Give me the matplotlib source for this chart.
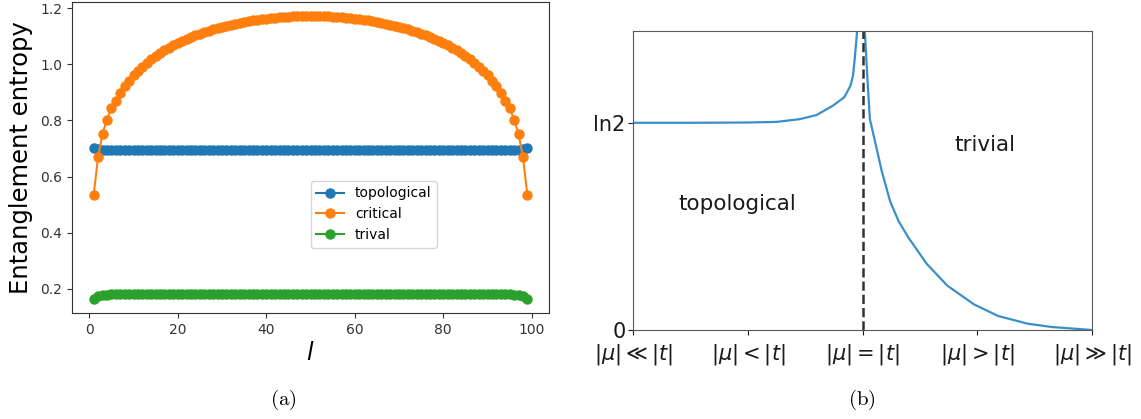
import numpy as np
import matplotlib
matplotlib.use("Agg")
import matplotlib.pyplot as plt

# panel (a): entanglement entropy vs subsystem size l
l_sites = list(range(1, 100))
S_topological = [0.703, 0.697] + [0.694] * 95 + [0.697, 0.703]
S_critical = [
    0.535, 0.670, 0.753, 0.803, 0.845, 0.871, 0.898, 0.922, 0.942, 0.961,
    0.977, 0.992, 1.006, 1.018, 1.030, 1.041, 1.050, 1.060, 1.068, 1.076,
    1.084, 1.091, 1.098, 1.104, 1.110, 1.115, 1.120, 1.125, 1.130, 1.134,
    1.138, 1.142, 1.145, 1.148, 1.151, 1.154, 1.157, 1.159, 1.161, 1.163,
    1.165, 1.166, 1.168, 1.169, 1.170, 1.171, 1.171, 1.172, 1.172, 1.172,
    1.172, 1.172, 1.171, 1.171, 1.170, 1.169, 1.168, 1.166, 1.165, 1.163,
    1.161, 1.159, 1.157, 1.154, 1.151, 1.148, 1.145, 1.142, 1.138, 1.134,
    1.130, 1.125, 1.120, 1.115, 1.110, 1.104, 1.098, 1.091, 1.084, 1.076,
    1.068, 1.060, 1.050, 1.041, 1.030, 1.018, 1.006, 0.992, 0.977, 0.961,
    0.942, 0.922, 0.898, 0.871, 0.845, 0.803, 0.753, 0.670, 0.535,
]
S_trivial = [0.164, 0.173, 0.177, 0.179] + [0.180] * 91 + [0.179, 0.177, 0.173, 0.164]

# panel (b): schematic entropy across the transition
mu_vals = [-2.0, -1.5, -1.0, -0.75, -0.55, -0.4, -0.26, -0.16, -0.105, -0.083,
           -0.068, -0.047, -0.04, 0.015, 0.02, 0.041, 0.064, 0.108, 0.167,
           0.24, 0.313, 0.40, 0.56, 0.74, 0.97, 1.18, 1.44, 1.65, 2.0]
S_schematic = [0.693, 0.693, 0.694, 0.696, 0.705, 0.719, 0.750, 0.778, 0.817, 0.851,
               0.907, 1.0, 1.1, 1.1, 1.0, 0.851, 0.705, 0.632, 0.532,
               0.431, 0.365, 0.309, 0.221, 0.148, 0.086, 0.047, 0.021, 0.010, 0.0]
mu_ticks = [-2, -1, 0, 1, 2]
mu_labels = [r'$|\mu| \ll |t|$', r'$|\mu| < |t|$', r'$|\mu| = |t|$',
             r'$|\mu| > |t|$', r'$|\mu| \gg |t|$']

fig = plt.figure(figsize=(11.41, 4.19), dpi=100)
ax1 = fig.add_axes([0.0631, 0.2530, 0.4181, 0.7422])
ax2 = fig.add_axes([0.5548, 0.2124, 0.4023, 0.7136])

ax1.plot(l_sites, S_topological, 'o-', color='C0', markersize=6.5, label='topological')
ax1.plot(l_sites, S_critical, 'o-', color='C1', markersize=6.5, label='critical')
ax1.plot(l_sites, S_trivial, 'o-', color='C2', markersize=6.5, label='trival')
ax1.set_xticks([0, 20, 40, 60, 80, 100])
ax1.set_yticks([0.2, 0.4, 0.6, 0.8, 1.0, 1.2])
ax1.tick_params(labelsize=10, colors='0.2')
ax1.set_ylabel('Entanglement entropy', fontsize=17.5, labelpad=5)
ax1.set_xlabel('$l$', fontsize=17, labelpad=3)
ax1.legend(loc='upper left', bbox_to_anchor=(0.50, 0.425), borderaxespad=0, fontsize=10)
for s in ax1.spines.values():
    s.set_color('0.2')

ax2.plot(mu_vals, S_schematic, '-', color='#3a8fcb', lw=1.6)
ax2.axvline(0, color='0.2', ls='--', lw=1.8)
ax2.set_xlim(-2, 2)
ax2.set_ylim(0, 1.0)
ax2.set_yticks([0, np.log(2)])
ax2.set_yticklabels(['0', 'ln2'])
ax2.set_xticks(mu_ticks)
ax2.set_xticklabels(mu_labels)
ax2.tick_params(axis='x', labelsize=15, pad=5, colors='0.1')
ax2.tick_params(axis='y', labelsize=15, pad=2, colors='0.1')
ax2.text(-1.09, 0.42, 'topological', fontsize=15.5, ha='center', va='center', color='0.1')
ax2.text(1.07, 0.62, 'trivial', fontsize=15.5, ha='center', va='center', color='0.1')
for s in ax2.spines.values():
    s.set_color('0.35')

fig.text(0.248, 0.045, r'$\mathrm{(a)}$', fontsize=15, ha='center', va='center',
         math_fontfamily='cm')
fig.text(0.7555, 0.045, r'$\mathrm{(b)}$', fontsize=15, ha='center', va='center',
         math_fontfamily='cm')

fig.savefig('out.png', dpi=100)
